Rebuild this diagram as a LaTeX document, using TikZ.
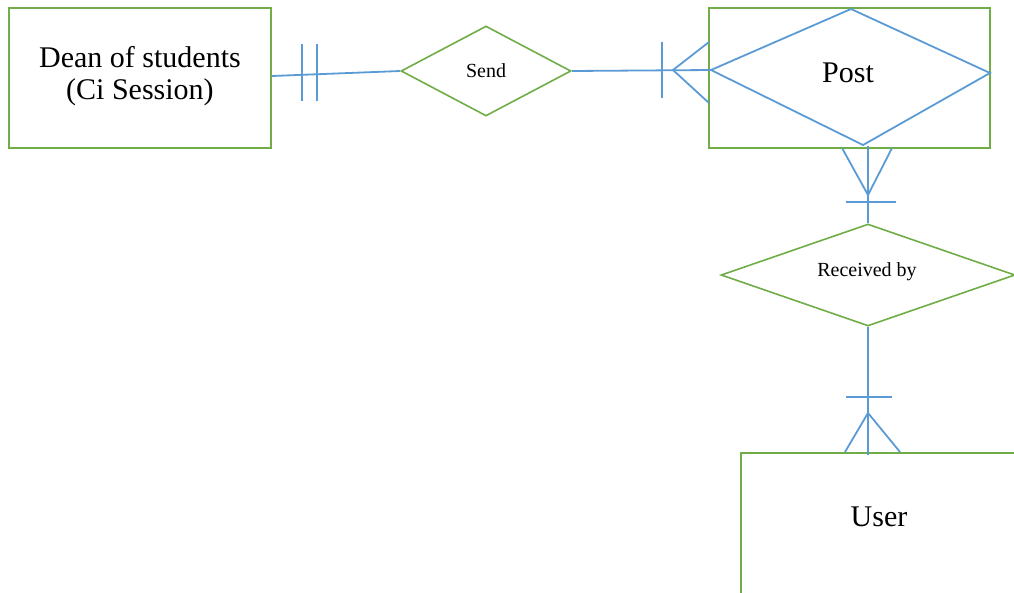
\documentclass[tikz,border=0pt]{standalone}
\usepackage{fontspec}
\setmainfont{Liberation Serif}
\usetikzlibrary{shapes.geometric}
\definecolor{eg}{RGB}{112,173,71}
\definecolor{rb}{RGB}{91,155,213}
\begin{document}
\begin{tikzpicture}[x=1pt,y=-1pt,
  ent/.style={draw=eg,line width=2pt,rectangle,inner sep=0},
  rel/.style={draw=eg,line width=1.6pt,diamond,inner sep=0},
  conn/.style={draw=rb,line width=1.8pt},
  big/.style={font=\rmfamily\fontsize{30}{32}\selectfont,align=center},
  small/.style={font=\rmfamily\fontsize{20}{22}\selectfont}]
\useasboundingbox (0,0) rectangle (1014,592);
\clip (0,0) rectangle (1014,592);
% entities
\node[ent, minimum width=262pt, minimum height=140pt] (dean) at (140,78) {};
\node[big] (deant) at (140,76) {Dean of students\\(Ci Session)};
\node[ent, minimum width=281pt, minimum height=140pt] (post) at (849.5,78) {};
\node[ent, minimum width=320pt, minimum height=200pt, anchor=north west] (user) at (740,452) {};
\node[big] (usert) at (879,517) {User};
% relationships
\node[rel, minimum width=170pt, minimum height=90pt] (send) at (486,71) {};
\node[small] (sendt) at (486,71) {Send};
\node[rel, minimum width=294pt, minimum height=102pt] (recv) at (868,275) {};
\node[small] (recvt) at (867,272) {Received by};
% blue diamond inside Post
\coordinate (pt) at (851,9);
\coordinate (pr) at (990,73);
\coordinate (pb) at (863,145);
\coordinate (pl) at (711,70);
\draw[conn] (pt) -- (pr) -- (pb) -- (pl) -- cycle;
\node[big] (postt) at (848,73) {Post};
% Dean -- Send
\draw[conn] (dean.east) ++(0,-2) -- (send.west);
\draw[conn] (302,44) -- (302,101);
\draw[conn] (317,44) -- (317,101);
% Send -- Post
\draw[conn] (send.east) -- (pl);
\draw[conn] (662,42) -- (662,98);
\coordinate (a1) at (673,70);
\draw[conn] (709,42) -- (a1) -- (709,103);
% Post -- Received by
\draw[conn] (868,146) -- (recv.north);
\coordinate (a2) at (868,195);
\draw[conn] (842,148) -- (a2) -- (892,148);
\draw[conn] (846,202) -- (896,202);
% Received by -- User
\draw[conn] (recv.south) -- (868,455);
\draw[conn] (846,397) -- (892,397);
\coordinate (a3) at (868,413);
\draw[conn] (845,452) -- (a3) -- (900,452);
\end{tikzpicture}
\end{document}
